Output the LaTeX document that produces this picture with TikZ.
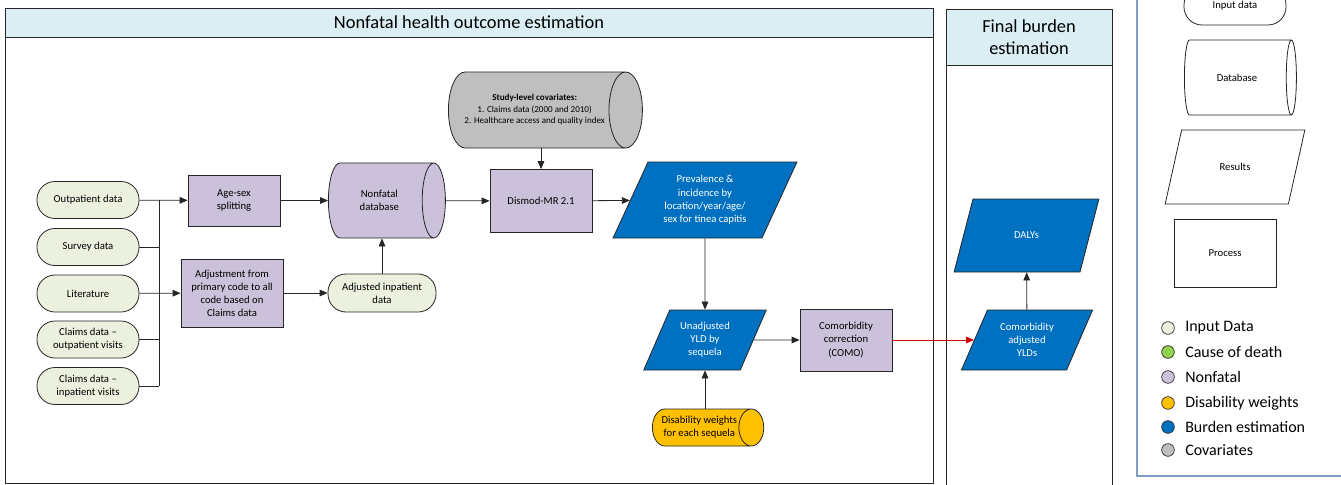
\documentclass[tikz,border=0pt]{standalone}
\usepackage{fontspec}
\setmainfont{Carlito}
\usetikzlibrary{arrows.meta, shapes.geometric}

\definecolor{inputc}{HTML}{EBF1DE}
\definecolor{codc}{HTML}{92D050}
\definecolor{nonfatalc}{HTML}{CCC1DA}
\definecolor{dwc}{HTML}{FFC000}
\definecolor{burdenc}{HTML}{0070C0}
\definecolor{covc}{HTML}{BFBFBF}
\definecolor{bandc}{HTML}{DAEEF3}
\definecolor{legendc}{HTML}{7F9DC4}
\definecolor{linec}{HTML}{262626}
\definecolor{redc}{HTML}{D00000}

\begin{document}
\begin{tikzpicture}[x=0.75pt, y=-0.75pt,
    base/.style={draw=linec, line width=0.6pt, align=center,
        font=\fontsize{8}{9.8}\selectfont, inner sep=1pt},
    inputbox/.style={base, rectangle, rounded corners=13.5pt, fill=inputc,
        minimum width=102*0.75pt, minimum height=37*0.75pt},
    procbox/.style={base, rectangle, fill=nonfatalc},
    dbase/.style={base, cylinder, aspect=1, shape border rotate=0, anchor=west},
    result/.style={base, trapezium, trapezium left angle=63,
        trapezium right angle=117, trapezium stretches=true,
        fill=burdenc, text=white},
    link/.style={draw=linec, line width=0.6pt},
    arr/.style={link, -{Triangle[length=6pt, width=5pt]}},
    frame/.style={draw=linec, line width=0.7pt}]

    % параметры
    \def\W{1341}   % ширина рисунка
    \def\H{485}    % высота рисунка
    \def\pxu{0.75pt}

    \useasboundingbox (0,0) rectangle (\W,\H);
    \clip (0,0) rectangle (\W,\H);

    % рамки
    \draw[frame] (5,8) rectangle (933,483);
    \draw[frame, fill=bandc] (5,8) rectangle (933,37);
    \node[font=\fontsize{13.8}{15}\selectfont] (title1) at (469,22.5)
        {Nonfatal health outcome estimation};
    \draw[frame] (946,500) -- (946,9) -- (1112,9) -- (1112,500);
    \draw[frame, fill=bandc] (946,9) rectangle (1112,65);
    \node[align=center, font=\fontsize{13.8}{16.5}\selectfont] (title2) at (1029,37)
        {Final burden\\estimation};
    \draw[legendc, line width=0.8pt] (1137,-20) -- (1137,476) -- (1360,476);

    % входные данные
    \coordinate (bus) at (159,0);
    \node[inputbox] (outp)  at (88,200)   {Outpatient data};
    \node[inputbox] (surv)  at (88,247)   {Survey data};
    \node[inputbox] (lit)   at (88,293.5) {Literature};
    \node[inputbox] (clout) at (88,339.5) {Claims data –\\outpatient visits};
    \node[inputbox] (clin)  at (88,386)   {Claims data –\\inpatient visits};

    % обработка (у цилиндра width и height меняются местами)
    \node[procbox, minimum width=92*\pxu, minimum height=51*\pxu]
        (agesex) at (234,200.5) {Age-sex\\splitting};
    \node[procbox, minimum width=102*\pxu, minimum height=68*\pxu]
        (adjust) at (232,293) {Adjustment from\\primary code to all\\code based on\\Claims data};
    \node[dbase, fill=nonfatalc, minimum height=117*\pxu, minimum width=75*\pxu]
        (nfdb) at (328,200.5) {Nonfatal\\database};
    \node[inputbox, minimum width=108*\pxu, minimum height=38*\pxu]
        (adjin) at (382,293) {Adjusted inpatient\\data};
    \node[dbase, fill=covc, minimum height=194*\pxu, minimum width=76*\pxu,
        font=\fontsize{6.8}{8.6}\selectfont]
        (cov) at (448,110) {\textbf{Study-level covariates:}\\1. Claims data (2000 and 2010)\\2. Healthcare access and quality index};
    \node[procbox, minimum width=102*\pxu, minimum height=63*\pxu]
        (dismod) at (541,201) {Dismod-MR 2.1};
    \node[result, minimum width=184*\pxu, minimum height=76*\pxu, font=\fontsize{8}{10}\selectfont]
        (prev) at (705,200) {Prevalence \&\\incidence by\\location/year/age/\\sex for tinea capitis};
    \node[result, minimum width=123*\pxu, minimum height=60*\pxu]
        (unadj) at (705,340) {Unadjusted\\YLD by\\sequela};
    \node[procbox, minimum width=92*\pxu, minimum height=62*\pxu]
        (como) at (846,340) {Comorbidity\\correction\\(COMO)};
    \node[dbase, fill=dwc, minimum height=111*\pxu, minimum width=37*\pxu]
        (dw) at (652,427.5) {Disability weights\\for each sequela};

    % итоговая оценка
    \node[result, minimum width=132*\pxu, minimum height=60*\pxu]
        (adjyld) at (1027,340) {Comorbidity\\adjusted\\YLDs};
    \node[result, minimum width=145*\pxu, minimum height=73*\pxu]
        (dalys) at (1026.5,235.5) {DALYs};

    % связи
    \draw[link] (outp.east -| bus) -- (clin.east -| bus);
    \draw[arr] (outp) -- (agesex);
    \draw[link] (surv.east) -- (surv.east -| bus);
    \draw[link] (clout.east) -- (clout.east -| bus);
    \draw[link] (clin.east) -- (clin.east -| bus);
    \draw[arr] (lit) -- (adjust);
    \draw[arr] (agesex) -- (nfdb);
    \draw[arr] (adjust) -- (adjin);
    \draw[arr] (adjin.north) -- (adjin.north |- nfdb.south);
    \draw[arr] (nfdb) -- (dismod);
    \draw[arr] (cov.south -| dismod.north) -- (dismod.north);
    \draw[arr] (dismod) -- (prev);
    \draw[arr] (prev) -- (unadj);
    \draw[arr] (unadj.south |- dw.north) -- (unadj.south);
    \draw[arr] (unadj) -- (como);
    \draw[arr, draw=redc, fill=redc] (como) -- (adjyld);
    \draw[arr] (adjyld) -- (dalys);

    % легенда
    \node[inputbox, fill=white, minimum height=38*\pxu] (linput) at (1235,6) {Input data};
    \node[dbase, fill=white, minimum height=112*\pxu, minimum width=75*\pxu]
        (ldb) at (1184,77.5) {Database};
    \node[result, fill=white, text=black, minimum width=140*\pxu, minimum height=74*\pxu]
        (lres) at (1235,167) {Results};
    \node[base, minimum width=102*\pxu, minimum height=68*\pxu] (lproc) at (1225,253) {Process};
    \foreach \y/\c/\t [count=\i] in {328/inputc/Input Data, 352/codc/Cause of death,
        377/nonfatalc/Nonfatal, 403/dwc/Disability weights,
        427/burdenc/Burden estimation, 450/covc/Covariates}{
        \node[circle, draw=linec, line width=0.5pt, fill=\c, minimum size=9.5pt,
            inner sep=0pt] (dot\i) at (1168,\y) {};
        \node[anchor=west, font=\fontsize{12}{14}\selectfont, inner sep=0pt]
            (key\i) at (1185,\y) {\t};
    }
\end{tikzpicture}
\end{document}
